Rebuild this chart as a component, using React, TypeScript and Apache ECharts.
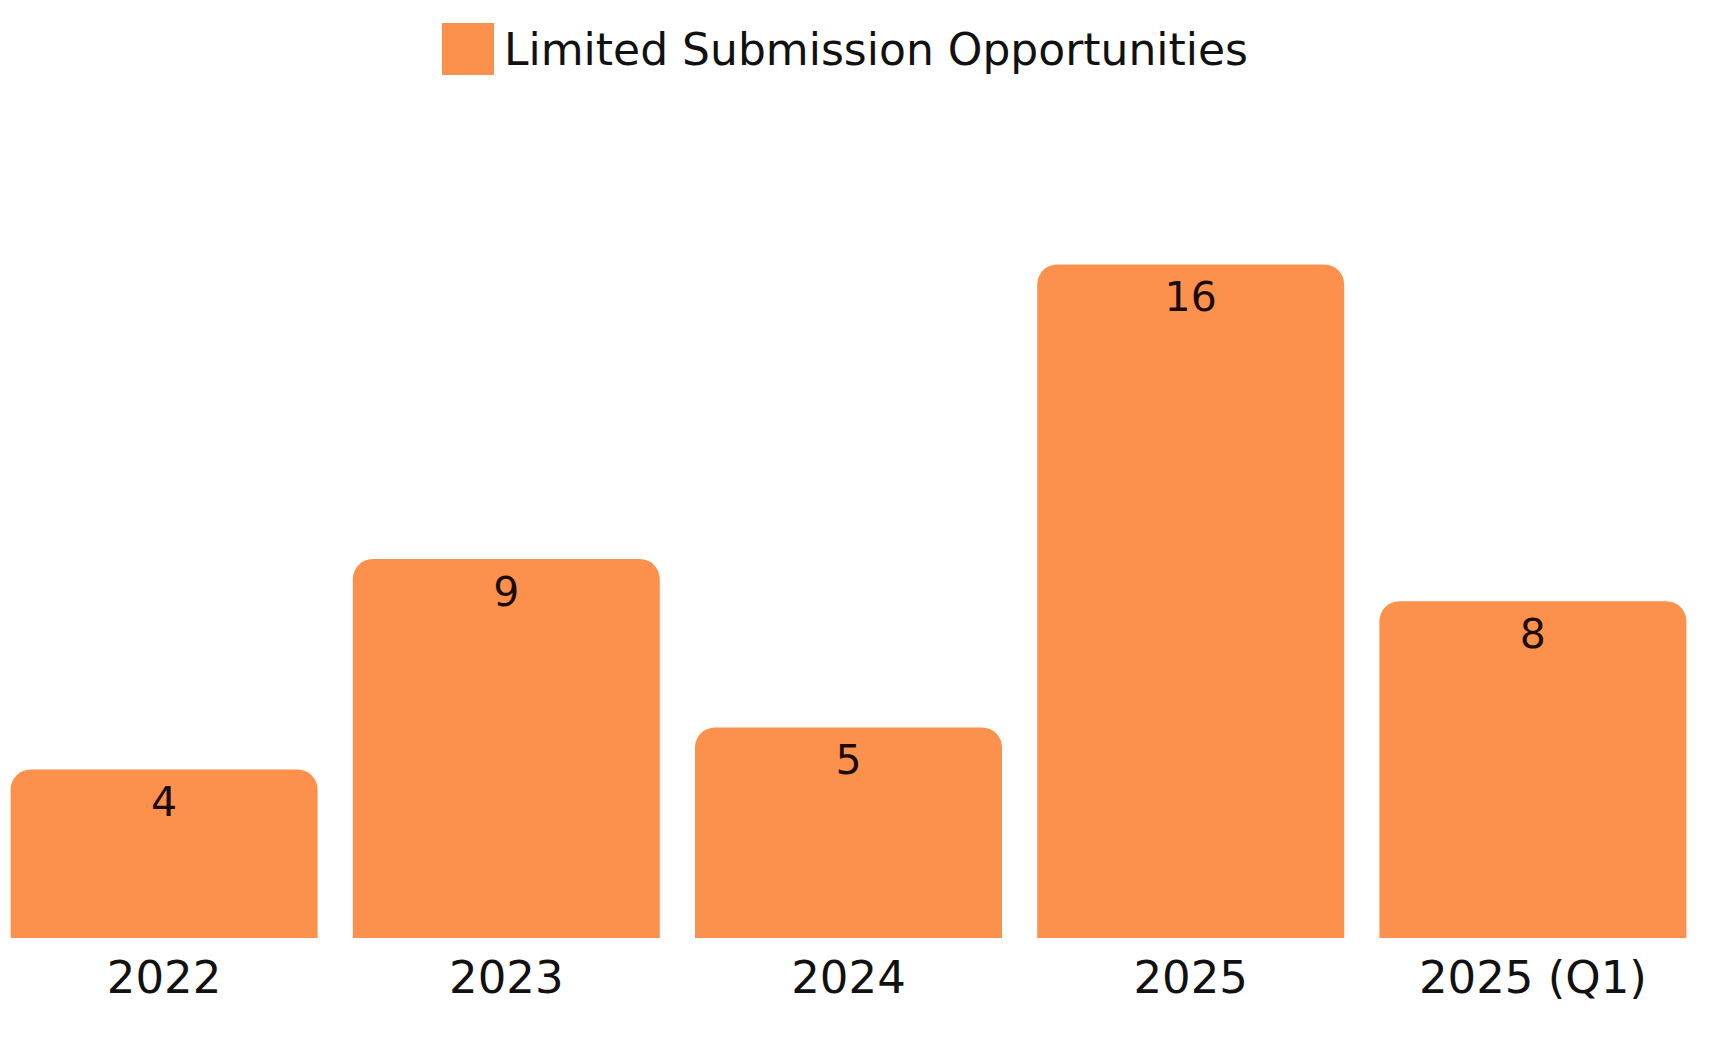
import React, { useEffect, useRef } from "react";
import * as echarts from "echarts";

const categories = ["2022", "2023", "2024", "2025", "2025 (Q1)"];
const values = [4, 9, 5, 16, 8];
const seriesName = "Limited Submission Opportunities";

const FONT = "'DejaVu Sans', sans-serif";
const ORANGE = "#FC914D";

export default function App() {
  const ref = useRef<HTMLDivElement>(null);
  useEffect(() => {
    if (!ref.current) return;
    const chart = echarts.init(ref.current, undefined, { renderer: "svg" });
    chart.setOption({
      animation: false,
      backgroundColor: "#ffffff",
      legend: {
        data: [seriesName],
        left: 444,
        top: 18,
        itemWidth: 52,
        itemHeight: 52,
        icon: "rect",
        textStyle: { fontFamily: FONT, fontSize: 44, color: "#111111", padding: [0, 0, 0, 5] },
      },
      grid: { left: 0, right: 22, top: 96, bottom: 120, containLabel: false },
      xAxis: {
        type: "category",
        data: categories,
        axisLine: { show: false },
        axisTick: { show: false },
        axisLabel: { fontFamily: FONT, fontSize: 45, color: "#111111", margin: 17 },
      },
      yAxis: {
        type: "value",
        min: 0,
        max: 20,
        show: false,
        splitLine: { show: false },
      },
      series: [
        {
          name: seriesName,
          type: "bar",
          data: values,
          barWidth: 307,
          itemStyle: { color: ORANGE, borderRadius: [20, 20, 0, 0] },
          label: {
            show: true,
            position: "insideTop",
            distance: 12,
            fontFamily: FONT,
            fontSize: 41,
            color: "#1c0c08",
          },
        },
      ],
    });
    return () => chart.dispose();
  }, []);
  return (
    <div
      ref={ref}
      style={{ position: "fixed", left: -7, top: 0, width: 1733, height: 1058 }}
    />
  );
}
